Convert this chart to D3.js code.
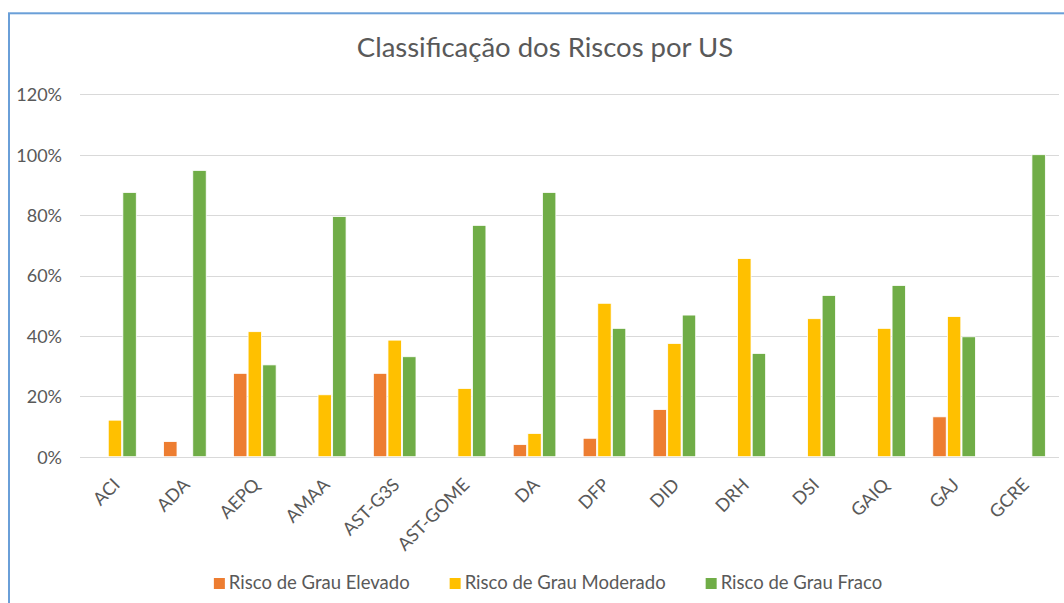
<!DOCTYPE html>
<html>
  <head>
    <meta charset="utf-8">
    <style>
      body {
          margin: 0;
          background: #fff;
          font-family: Lato, "Open Sans", sans-serif;
      }
      .grid line {
          stroke: #d9d9d9;
          stroke-width: 1.3;
          shape-rendering: crispEdges;
      }
      .lbl {
          fill: #595959;
      }
    </style>
  </head>
  <body>
    <script src="https://cdn.jsdelivr.net/npm/d3@7"></script>
    <script>
      // data
      var categories = ["ACI", "ADA", "AEPQ", "AMAA", "AST-G3S", "AST-GOME", "DA",
                        "DFP", "DID", "DRH", "DSI", "GAIQ", "GAJ", "GCRE"];
      var seriesNames = ["Risco de Grau Elevado", "Risco de Grau Moderado", "Risco de Grau Fraco"];
      var seriesColors = ["#ed7d31", "#ffc000", "#70ad47"];
      var elevado  = [0, 0.05, 0.276, 0, 0.276, 0, 0.04, 0.061, 0.156, 0, 0, 0, 0.132, 0];
      var moderado = [0.121, 0, 0.414, 0.205, 0.386, 0.226, 0.077, 0.508, 0.375, 0.656, 0.457, 0.425, 0.464, 0];
      var fraco    = [0.875, 0.948, 0.304, 0.795, 0.331, 0.766, 0.875, 0.425, 0.469, 0.342, 0.534, 0.567, 0.397, 1.0];
      var yTicks = [0, 0.2, 0.4, 0.6, 0.8, 1.0, 1.2];

      var W = 1064, H = 603;
      var plot = {left: 80, right: 1059, top: 94.3, bottom: 456.7};

      var svg = d3.select("body").append("svg")
          .attr("width", W)
          .attr("height", H);

      // outer frame (only top and left edges are visible)
      svg.append("rect")
          .attr("x", 9).attr("y", 13.3)
          .attr("width", W + 20).attr("height", H + 20)
          .attr("fill", "none")
          .attr("stroke", "#6a9fd8")
          .attr("stroke-width", 2);

      svg.append("text")
          .attr("class", "lbl")
          .attr("x", 545)
          .attr("y", 57)
          .attr("text-anchor", "middle")
          .style("font-size", "27.5px")
          .text("Classificação dos Riscos por US");

      var y = d3.scaleLinear()
          .domain([0, 1.2])
          .range([plot.bottom, plot.top]);

      var x0 = d3.scaleBand()
          .domain(categories)
          .range([plot.left, plot.right])
          .paddingInner(0.357)
          .paddingOuter(0.357 / 2);

      var x1 = d3.scaleBand()
          .domain(d3.range(3))
          .range([0, x0.bandwidth()])
          .padding(0.08);

      // gridlines
      svg.append("g")
          .attr("class", "grid")
          .selectAll("line")
          .data(yTicks)
          .enter().append("line")
          .attr("x1", plot.left)
          .attr("x2", plot.right)
          .attr("y1", function(d) { return Math.round(y(d)) + 0.5; })
          .attr("y2", function(d) { return Math.round(y(d)) + 0.5; });

      // y axis labels
      var yAxis = d3.axisLeft(y)
          .tickValues(yTicks)
          .tickFormat(d3.format(".0%"))
          .tickSize(0)
          .tickPadding(0);

      var yg = svg.append("g")
          .attr("transform", "translate(62,0)")
          .call(yAxis);
      yg.select(".domain").remove();
      yg.selectAll("text")
          .attr("class", "lbl")
          .attr("dy", "0.36em")
          .style("font-family", "Lato, sans-serif")
          .style("font-size", "18px");

      // bars
      var rows = categories.map(function(c, i) {
          return {cat: c, vals: [elevado[i], moderado[i], fraco[i]]};
      });

      var groups = svg.append("g").selectAll("g")
          .data(rows)
          .enter().append("g")
          .attr("transform", function(d) { return "translate(" + x0(d.cat) + ",0)"; });

      groups.selectAll("rect")
          .data(function(d) {
              return d.vals.map(function(v, k) { return {k: k, v: v}; })
                  .filter(function(e) { return e.v > 0; });
          })
          .enter().append("rect")
          .attr("x", function(d) { return x1(d.k); })
          .attr("width", x1.bandwidth())
          .attr("y", function(d) { return y(d.v); })
          .attr("height", function(d) { return y(0) - y(d.v); })
          .attr("fill", function(d) { return seriesColors[d.k]; })
          .attr("stroke", "#fff")
          .attr("stroke-width", 0.8);

      // category labels, rotated
      svg.append("g").selectAll("text")
          .data(categories)
          .enter().append("text")
          .attr("class", "lbl")
          .attr("text-anchor", "end")
          .style("font-size", "18px")
          .attr("transform", function(d) {
              var cx = x0(d) + x0.bandwidth() / 2;
              return "translate(" + (cx + 6) + ",486) rotate(-45)";
          })
          .text(function(d) { return d; });

      // legend
      var legend = svg.append("g");
      var items = legend.selectAll("g")
          .data(seriesNames)
          .enter().append("g");
      items.append("rect")
          .attr("width", 11).attr("height", 11)
          .attr("y", -11)
          .attr("fill", function(d, i) { return seriesColors[i]; });
      items.append("text")
          .attr("class", "lbl")
          .attr("x", 15)
          .style("font-size", "18.5px")
          .text(function(d) { return d; });

      var pos = 0, gap = 40;
      items.each(function() {
          var w = this.getBBox().width;
          d3.select(this).attr("transform", "translate(" + pos + ",0)");
          pos += w + gap;
      });
      var total = pos - gap;
      legend.attr("transform", "translate(" + (548 - total / 2) + ",589)");
    </script>
  </body>
</html>
